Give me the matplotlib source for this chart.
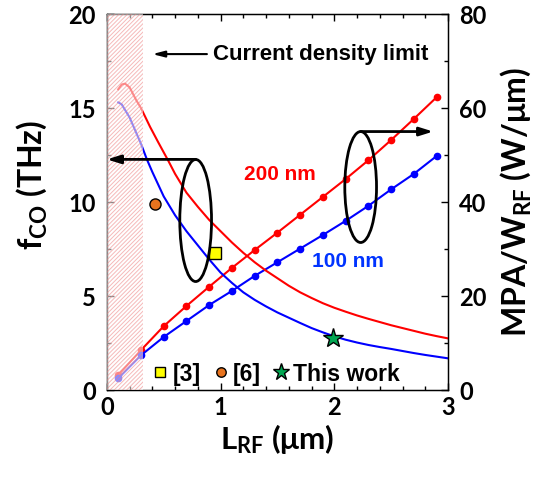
import matplotlib
matplotlib.use('Agg')
import matplotlib.pyplot as plt
from matplotlib.patches import Ellipse
from matplotlib.ticker import MultipleLocator
from matplotlib.font_manager import FontProperties

# ---- data ----
L_mpa = [0.1, 0.3, 0.5, 0.7, 0.9, 1.1, 1.3, 1.5, 1.7, 1.9, 2.1, 2.3, 2.5, 2.7, 2.9]
mpa_200 = [3.2, 8.5, 13.6, 17.9, 22.0, 26.0, 29.8, 33.5, 37.3, 41.1, 44.9, 48.9, 53.2, 57.7, 62.3]
mpa_100 = [2.5, 7.4, 11.3, 14.7, 18.1, 21.1, 24.3, 27.2, 30.1, 33.0, 36.0, 39.2, 42.7, 46.0, 49.8]

L_f100 = [0.10, 0.13, 0.16, 0.20, 0.25, 0.30, 0.35, 0.40, 0.50, 0.60, 0.70, 0.80, 0.90,
          1.00, 1.10, 1.20, 1.30, 1.40, 1.50, 1.60, 1.70, 1.80, 1.90, 2.00, 2.10, 2.20,
          2.30, 2.40, 2.50, 2.60, 2.70, 2.80, 2.90, 3.00]
f_100 = [15.3, 15.2, 14.9, 14.5, 13.8, 13.1, 12.3, 11.6, 10.3, 9.3, 8.45, 7.7, 6.95,
         6.25, 5.7, 5.2, 4.8, 4.45, 4.13, 3.85, 3.57, 3.3, 3.07, 2.86, 2.68, 2.53,
         2.4, 2.29, 2.19, 2.08, 1.97, 1.87, 1.78, 1.69]

L_f200 = [0.10, 0.13, 0.16, 0.20, 0.26, 0.30, 0.38, 0.45, 0.54, 0.60, 0.70, 0.80, 0.90,
          1.00, 1.10, 1.20, 1.30, 1.40, 1.50, 1.60, 1.70, 1.80, 1.90, 2.00, 2.10, 2.20,
          2.30, 2.40, 2.50, 2.60, 2.70, 2.80, 2.90, 3.00]
f_200 = [16.0, 16.25, 16.3, 16.1, 15.4, 15.0, 14.0, 13.2, 12.2, 11.5, 10.5, 9.75, 9.05,
         8.45, 7.85, 7.3, 6.8, 6.35, 5.95, 5.55, 5.2, 4.9, 4.62, 4.38, 4.17, 3.97,
         3.79, 3.62, 3.45, 3.3, 3.15, 3.0, 2.87, 2.75]

ref_names = ['[3]', '[6]', 'This work']
ref_L = [0.95, 0.42, 1.985]
ref_f = [7.27, 9.9, 2.75]

limit_L = 0.32
limit_text = 'Current density limit'

# ---- style ----
LAB = 'Lato'
ANN = 'Liberation Sans'
plt.rcParams['font.family'] = [LAB, 'DejaVu Sans']
plt.rcParams['font.weight'] = 'bold'
plt.rcParams['mathtext.default'] = 'regular'
plt.rcParams['hatch.linewidth'] = 0.7

fig = plt.figure(figsize=(5.48, 4.84), dpi=100)
ax1 = fig.add_axes([0.195, 0.194, 0.6225, 0.777])
ax2 = ax1.twinx()
ax1.set_zorder(ax2.get_zorder() + 1)
ax1.patch.set_visible(False)

# MPA lines (right axis)
ax2.plot(L_mpa, mpa_200, '-o', color='#FF0000', lw=1.5, ms=4.5)
ax2.plot(L_mpa, mpa_100, '-o', color='#0000FF', lw=1.5, ms=4.5)

# fco curves (left axis)
ax1.plot(L_f200, f_200, '-', color='#FF0000', lw=1.5)
ax1.plot(L_f100, f_100, '-', color='#0000FF', lw=1.5)

# reference points
ax1.plot(ref_L[0], ref_f[0], 's', ms=8, mfc='#FFFF00', mec='k', mew=1.0, ls='none', label=ref_names[0])
ax1.plot(ref_L[1], ref_f[1], 'o', ms=8, mfc='#E8731E', mec='k', mew=1.0, ls='none', label=ref_names[1])
ax1.plot(ref_L[2], ref_f[2], '*', ms=15, mfc='#00A651', mec='k', mew=1.0, ls='none', label=ref_names[2])

# current density limit region
ax1.axvspan(0, limit_L, facecolor=(1, 1, 1, 0.55), edgecolor=(0.93, 0.5, 0.5, 0.55),
            hatch='////////', lw=0, zorder=5)

# annotations
ax1.annotate('', xy=(0.40, 17.87), xytext=(0.88, 17.87),
             arrowprops=dict(arrowstyle='-|>,head_width=0.18,head_length=0.7', color='k', lw=1.5,
                             shrinkA=0, shrinkB=0), zorder=6)
ax1.text(0.93, 17.87, limit_text, family=ANN, fontsize=16, fontweight='bold', va='center', ha='left')

ax1.add_patch(Ellipse((0.781, 9.02), 0.279, 6.49, fill=False, ec='k', lw=2, zorder=6))
ax1.annotate('', xy=(0.0, 12.27), xytext=(0.781, 12.27),
             arrowprops=dict(arrowstyle='-|>,head_width=0.25,head_length=0.8', color='k', lw=2,
                             shrinkA=0, shrinkB=0), zorder=7)
ax1.add_patch(Ellipse((2.232, 10.8), 0.279, 5.9, fill=False, ec='k', lw=2, zorder=6))
ax1.annotate('', xy=(2.87, 13.75), xytext=(2.232, 13.75),
             arrowprops=dict(arrowstyle='-|>,head_width=0.25,head_length=0.8', color='k', lw=2,
                             shrinkA=0, shrinkB=0), zorder=7)

ax1.text(1.52, 11.47, '200 nm', family=ANN, fontsize=15, fontweight='bold', color='#FF0000',
         ha='center', va='center')
ax1.text(2.12, 6.82, '100 nm', family=ANN, fontsize=15, fontweight='bold', color='#0033FF',
         ha='center', va='center')

leg_font = FontProperties(family=ANN, size=16.5, weight='bold')
leg = ax1.legend(loc='lower left', bbox_to_anchor=(0.12, 0.0), ncol=3, frameon=False,
                 handlelength=0.7, handletextpad=0.2, columnspacing=0.5, borderpad=0.2,
                 borderaxespad=0, prop=leg_font, markerscale=0.85)

# axes
ax1.set_xlim(0, 3)
ax1.set_ylim(0, 20)
ax2.set_ylim(0, 80)
ax1.xaxis.set_major_locator(MultipleLocator(1))
ax1.xaxis.set_minor_locator(MultipleLocator(0.2))
ax1.yaxis.set_major_locator(MultipleLocator(5))
ax1.yaxis.set_minor_locator(MultipleLocator(2.5))
ax2.yaxis.set_major_locator(MultipleLocator(20))
ax2.yaxis.set_minor_locator(MultipleLocator(10))
ax1.tick_params(which='both', direction='in', top=True, labelsize=17, width=1)
ax1.tick_params(which='major', length=5, pad=4)
ax1.tick_params(which='minor', length=3)
ax1.tick_params(axis='y', pad=8)
ax2.tick_params(which='both', direction='in', labelsize=17, width=1)
ax2.tick_params(which='major', length=5, pad=8)
ax2.tick_params(which='minor', length=3)
for lab in ax1.get_xticklabels() + ax1.get_yticklabels() + ax2.get_yticklabels():
    lab.set_fontweight('bold')

ax1.set_xlabel(r'L$_{RF}$ ($\mu$m)', fontsize=22.5, fontweight='bold')
ax1.set_ylabel(r'f$_{CO}$ (THz)', fontsize=23, fontweight='bold')
ax2.set_ylabel(r'MPA/W$_{RF}$ (W/$\mu$m)', fontsize=23, fontweight='bold')
ax1.xaxis.set_label_coords(0.5, -0.085)
ax1.yaxis.set_label_coords(-0.17, 0.546)
ax2.yaxis.set_label_coords(1.15, 0.5)

for sp in ax1.spines.values():
    sp.set_linewidth(1.0)

fig.savefig('out.png', dpi=100)
